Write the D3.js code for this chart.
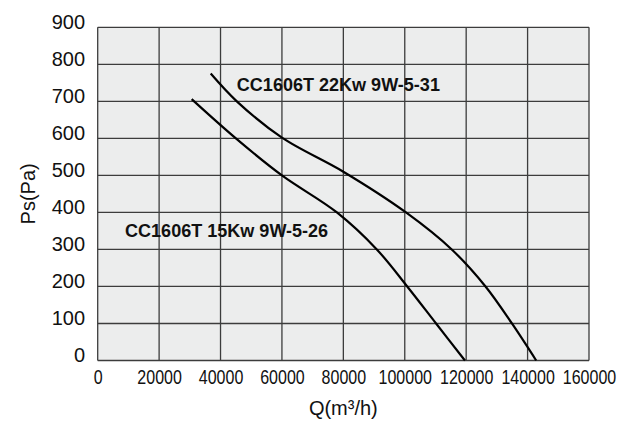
<!DOCTYPE html>
<html>
<head>
<meta charset="utf-8">
<script src="https://cdn.jsdelivr.net/npm/d3@7"></script>
<style>
  body { margin: 0; background: #fff; }
  text { font-family: "Liberation Sans", Arial, sans-serif; fill: #111; }
</style>
</head>
<body>
<svg id="chart"></svg>
<script>
// Tick values
const xTicks = [0, 20000, 40000, 60000, 80000, 100000, 120000, 140000, 160000];
const yTicks = [0, 100, 200, 300, 400, 500, 600, 700, 800, 900];

// Curve 15Kw: Q (m3/h) and Ps (Pa)
const q15 = [30600, 45000, 60000, 77900, 90900, 100800, 110200, 119600];
const ps15 = [706, 600, 500, 400, 300, 200, 100, 0];

// Curve 22Kw
const q22 = [36800, 45300, 60000, 80000, 100400, 115300, 126300, 134900, 142800];
const ps22 = [775, 700, 602, 510, 400, 300, 200, 100, 0];

// Curve labels
const curveNames = ["CC1606T 15Kw 9W-5-26", "CC1606T 22Kw 9W-5-31"];
const labelQ = [8900, 45300];
const labelPs = [334, 728];

function chart() {
  const width = 630;
  const height = 421;
  const margin = { top: 27.3, right: 41, bottom: 60.5, left: 97.7 };

  const svg = d3.select('#chart')
    .attr('width', width)
    .attr('height', height);

  const x = d3.scaleLinear()
    .domain([0, 160000])
    .range([margin.left, width - margin.right]);
  const y = d3.scaleLinear()
    .domain([0, 900])
    .range([height - margin.bottom, margin.top]);

  // Plot background
  svg.append('rect')
    .attr('x', x(0))
    .attr('y', y(900))
    .attr('width', x(160000) - x(0))
    .attr('height', y(0) - y(900))
    .attr('fill', '#eceded');

  // Grid
  svg.append('g')
    .selectAll('line')
    .data(xTicks)
    .join('line')
    .attr('x1', d => x(d)).attr('x2', d => x(d))
    .attr('y1', y(0)).attr('y2', y(900))
    .attr('stroke', '#3c3c3c')
    .attr('stroke-width', 1.3);
  svg.append('g')
    .selectAll('line')
    .data(yTicks)
    .join('line')
    .attr('y1', d => y(d)).attr('y2', d => y(d))
    .attr('x1', x(0)).attr('x2', x(160000))
    .attr('stroke', '#3c3c3c')
    .attr('stroke-width', 1.3);

  // Axes (labels only)
  const xAxis = svg.append('g')
    .attr('transform', `translate(0, ${y(0)})`)
    .call(d3.axisBottom(x).tickValues(xTicks).tickSize(0).tickPadding(9).tickFormat(d3.format('d')));
  xAxis.select('.domain').remove();
  xAxis.selectAll('text')
    .attr('font-size', 20)
    .attr('fill', '#111')
    .attr('transform', 'scale(0.8,1)');

  const yAxis = svg.append('g')
    .attr('transform', `translate(${x(0)}, 0)`)
    .call(d3.axisLeft(y).tickValues(yTicks).tickSize(0).tickPadding(12.7).tickFormat(d3.format('d')));
  yAxis.select('.domain').remove();
  yAxis.selectAll('text')
    .attr('font-size', 20)
    .attr('fill', '#111')
    .attr('dy', 1);

  // Axis titles
  svg.append('text')
    .attr('transform', `translate(35, ${(y(0) + y(900)) / 2}) rotate(-90)`)
    .attr('text-anchor', 'middle')
    .attr('font-size', 20)
    .text('Ps(Pa)');
  svg.append('text')
    .attr('x', (x(0) + x(160000)) / 2)
    .attr('y', 415)
    .attr('text-anchor', 'middle')
    .attr('font-size', 20)
    .text('Q(m³/h)');

  // Curves
  const line = d3.line()
    .x(d => x(d[0]))
    .y(d => y(d[1]))
    .curve(d3.curveCatmullRom.alpha(0.5));

  const series = [d3.zip(q15, ps15), d3.zip(q22, ps22)];
  svg.append('g')
    .selectAll('path')
    .data(series)
    .join('path')
    .attr('d', line)
    .attr('fill', 'none')
    .attr('stroke', '#000')
    .attr('stroke-width', 2.2);

  // Curve labels
  svg.append('g')
    .selectAll('text')
    .data(curveNames)
    .join('text')
    .attr('transform', (d, i) => `translate(${x(labelQ[i])}, ${y(labelPs[i])}) scale(0.95,1)`)
    .attr('font-size', 19)
    .attr('font-weight', 'bold')
    .attr('fill', '#1a1a1a')
    .text(d => d);
}

chart();
</script>
</body>
</html>
